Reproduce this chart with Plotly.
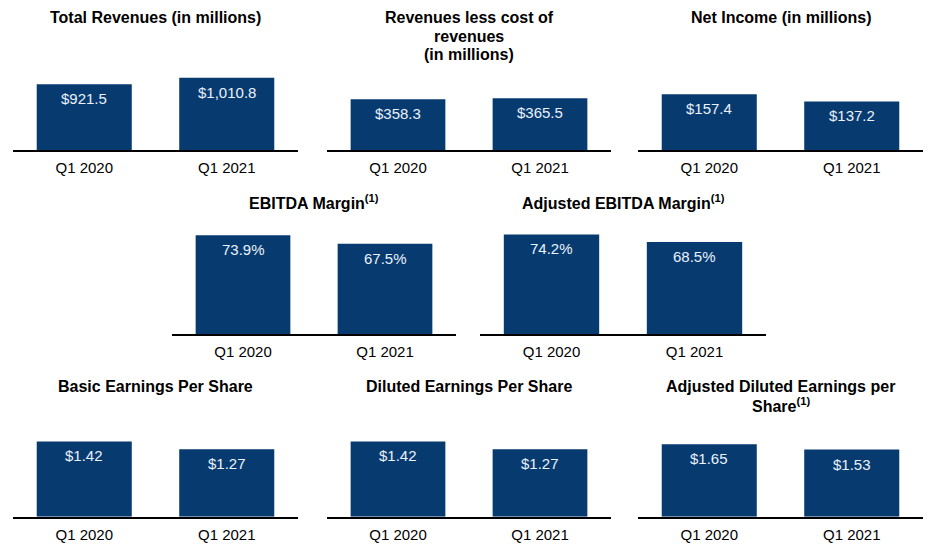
import plotly.graph_objects as go

W, H = 936, 551

categories = ["Q1 2020", "Q1 2021"]

total_revenues = [921.5, 1010.8]
rev_less_cost = [358.3, 365.5]
net_income = [157.4, 137.2]
ebitda_margin = [73.9, 67.5]
adj_ebitda_margin = [74.2, 68.5]
basic_eps = [1.42, 1.27]
diluted_eps = [1.42, 1.27]
adj_diluted_eps = [1.65, 1.53]

value_formats = ["${:,.1f}", "${:,.1f}", "${:,.1f}", "{:.1f}%", "{:.1f}%",
                 "${:.2f}", "${:.2f}", "${:.2f}"]

titles = [
    ["Total Revenues (in millions)"],
    ["Revenues less cost of", "revenues", "(in millions)"],
    ["Net Income (in millions)"],
    ["EBITDA Margin<sup>(1)</sup>"],
    ["Adjusted EBITDA Margin<sup>(1)</sup>"],
    ["Basic Earnings Per Share"],
    ["Diluted Earnings Per Share"],
    ["Adjusted Diluted Earnings per", "Share<sup>(1)</sup>"],
]

series = [total_revenues, rev_less_cost, net_income, ebitda_margin,
          adj_ebitda_margin, basic_eps, diluted_eps, adj_diluted_eps]

# layout (pixels): x-left, x-right, baseline y, domain-top y, axis max, title line ys
panels = [
    dict(x0=13, x1=298, yb=150, yt=70, ymax=1120, ty=[18]),
    dict(x0=327, x1=611, yb=150, yt=70, ymax=565, ty=[18, 36.5, 55]),
    dict(x0=638, x1=923, yb=150, yt=70, ymax=226, ty=[18]),
    dict(x0=172, x1=456, yb=334, yt=225, ymax=81.5, ty=[202]),
    dict(x0=480, x1=766, yb=334, yt=225, ymax=81.2, ty=[202]),
    dict(x0=13, x1=298, yb=516.7, yt=435, ymax=1.541, ty=[386]),
    dict(x0=327, x1=611, yb=516.7, yt=435, ymax=1.541, ty=[386]),
    dict(x0=638, x1=923, yb=516.7, yt=435, ymax=1.863, ty=[386.5, 404.5]),
]

BAR = "#073A6F"
FONT = "Liberation Sans, Arial, sans-serif"

fig = go.Figure()
annotations = []
for i, (p, vals) in enumerate(zip(panels, series)):
    n = "" if i == 0 else str(i + 1)
    xa, ya = "x" + n, "y" + n
    fig.add_trace(go.Bar(
        x=categories, y=vals, xaxis=xa, yaxis=ya,
        marker=dict(color=BAR, line=dict(width=0)),
        width=0.667, hoverinfo="skip", showlegend=False,
    ))
    for c, v in zip(categories, vals):
        annotations.append(dict(
            x=c, y=v, xref=xa, yref=ya, text=value_formats[i].format(v),
            showarrow=False, yanchor="middle", yshift=-14.5,
            font=dict(family=FONT, size=15, color="#EAF2FB"),
        ))
    cx = (p["x0"] + p["x1"]) / 2 / W
    for line, ty in zip(titles[i], p["ty"]):
        annotations.append(dict(
            x=cx, y=1 - ty / H, xref="paper", yref="paper", text="<b>" + line + "</b>",
            showarrow=False, xanchor="center", yanchor="middle",
            font=dict(family=FONT, size=16, color="#000000"),
        ))
    fig.layout["xaxis" + n] = dict(
        domain=[p["x0"] / W, p["x1"] / W], anchor=ya, type="category",
        range=[-0.5, 1.5], showline=True, linecolor="#000000", linewidth=2,
        showgrid=False, zeroline=False, ticks="outside", ticklen=3,
        tickcolor="rgba(0,0,0,0)", fixedrange=True,
        tickfont=dict(family=FONT, size=15, color="#000000"),
    )
    fig.layout["yaxis" + n] = dict(
        domain=[1 - p["yb"] / H, 1 - p["yt"] / H], anchor=xa,
        range=[0, p["ymax"]], visible=False, showgrid=False, zeroline=False,
        fixedrange=True,
    )

fig.update_layout(
    width=W, height=H, margin=dict(l=0, r=0, t=0, b=0),
    paper_bgcolor="#FFFFFF", plot_bgcolor="#FFFFFF",
    annotations=annotations, showlegend=False,
)

fig.write_html("out.html", config={"displayModeBar": False})
